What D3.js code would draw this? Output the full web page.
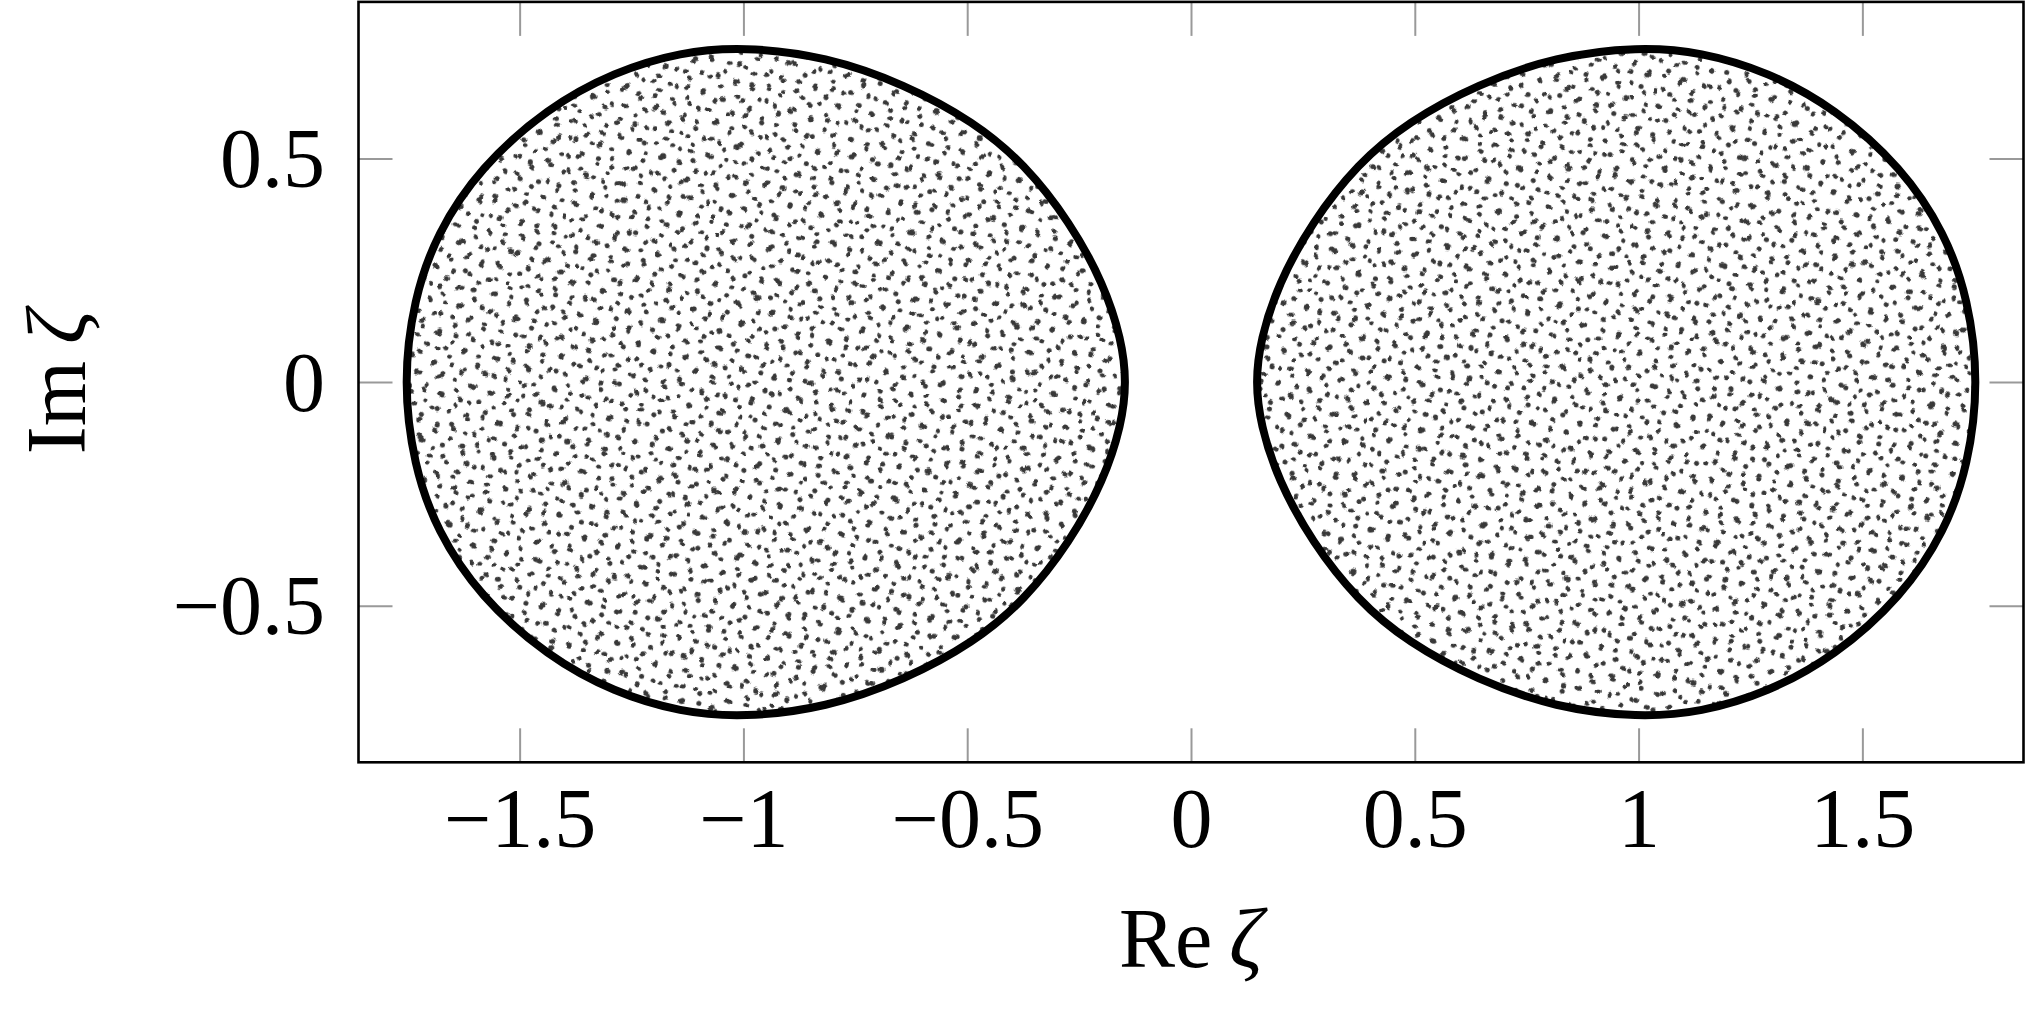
<!DOCTYPE html>
<html>
<head>
<meta charset="utf-8">
<script src="https://cdn.jsdelivr.net/npm/d3@7/dist/d3.min.js"></script>
<style>
  body { margin: 0; background: #fff; }
  text { font-family: "Liberation Serif", "DejaVu Serif", serif; fill: #000; }
</style>
</head>
<body>
<div class="container"></div>
<script>
// tick values
const reTicks = [-1.5, -1, -0.5, 0, 0.5, 1, 1.5];
const imTicks = [-0.5, 0, 0.5];

// boundary of the left support, [Re, Im]
const leftBoundary = [
  [-1.760, 0.000], [-1.737, 0.185], [-1.685, 0.333], [-1.588, 0.480], [-1.438, 0.613],
  [-1.288, 0.694], [-1.140, 0.738], [-1.000, 0.750], [-0.815, 0.728], [-0.640, 0.666],
  [-0.485, 0.582], [-0.372, 0.488], [-0.270, 0.357], [-0.195, 0.220], [-0.155, 0.095],
  [-0.144, 0.000], [-0.155, -0.095], [-0.195, -0.220], [-0.270, -0.357], [-0.372, -0.488],
  [-0.485, -0.582], [-0.640, -0.666], [-0.815, -0.728], [-1.000, -0.750], [-1.140, -0.738],
  [-1.288, -0.694], [-1.438, -0.613], [-1.588, -0.480], [-1.685, -0.333], [-1.737, -0.185]
];

// boundary of the right support
const rightBoundary = [
  [1.760, 0.000], [1.737, 0.185], [1.685, 0.333], [1.588, 0.480], [1.438, 0.613],
  [1.288, 0.694], [1.140, 0.738], [1.000, 0.750], [0.815, 0.728], [0.640, 0.666],
  [0.485, 0.582], [0.372, 0.488], [0.270, 0.357], [0.195, 0.220], [0.155, 0.095],
  [0.144, 0.000], [0.155, -0.095], [0.195, -0.220], [0.270, -0.357], [0.372, -0.488],
  [0.485, -0.582], [0.640, -0.666], [0.815, -0.728], [1.000, -0.750], [1.140, -0.738],
  [1.288, -0.694], [1.438, -0.613], [1.588, -0.480], [1.685, -0.333], [1.737, -0.185]
];

const w = 2026;
const h = 1010;
const pLeft = 358.5, pRight = 2023.5, pTop = 1.9, pBottom = 762.3;
const tick = 34;

const xScale = d3.scaleLinear().domain([-1.86, 1.86]).range([pLeft, pRight]);
const yScale = d3.scaleLinear().domain([-0.85, 0.85]).range([pBottom, pTop]);

const fmt = (d) => d < 0 ? "\u2212" + Math.abs(d) : String(d);

const svg = d3.select(".container")
  .append("svg")
  .attr("width", w)
  .attr("height", h);

const line = d3.line()
  .x((d) => xScale(d[0]))
  .y((d) => yScale(d[1]))
  .curve(d3.curveBasisClosed);

const defs = svg.append("defs");

const clip = defs.append("clipPath").attr("id", "blobs");
clip.append("path").attr("d", line(leftBoundary));
clip.append("path").attr("d", line(rightBoundary));

// stipple texture standing for the eigenvalue cloud:
// two sparse dot lattices, each shaken by its own noise displacement
const cell = 17.8;
const cellH = cell * Math.sqrt(3);
const layers = [
  { id: "a", angle: 13, seed: 5 },
  { id: "b", angle: 41, seed: 23 }
];

layers.forEach((l) => {
  const pattern = defs.append("pattern")
    .attr("id", "dots-" + l.id)
    .attr("patternUnits", "userSpaceOnUse")
    .attr("width", cell)
    .attr("height", cellH)
    .attr("patternTransform", "rotate(" + l.angle + ")");
  pattern.append("circle").attr("cx", cell / 4).attr("cy", cellH / 4).attr("r", 2.5).attr("fill", "#383838");
  pattern.append("circle").attr("cx", cell * 3 / 4).attr("cy", cellH * 3 / 4).attr("r", 2.5).attr("fill", "#383838");

  const filter = defs.append("filter")
    .attr("id", "jitter-" + l.id)
    .attr("filterUnits", "userSpaceOnUse")
    .attr("x", 0).attr("y", 0).attr("width", w).attr("height", h)
    .attr("color-interpolation-filters", "sRGB");
  filter.append("feTurbulence")
    .attr("type", "fractalNoise")
    .attr("baseFrequency", 0.035)
    .attr("numOctaves", 1)
    .attr("seed", l.seed)
    .attr("result", "noise");
  filter.append("feDisplacementMap")
    .attr("in", "SourceGraphic")
    .attr("in2", "noise")
    .attr("scale", 15)
    .attr("xChannelSelector", "R")
    .attr("yChannelSelector", "G");
});

const cloud = svg.append("g").attr("clip-path", "url(#blobs)");
layers.forEach((l) => {
  cloud.append("rect")
    .attr("x", pLeft - 20).attr("y", pTop - 20)
    .attr("width", pRight - pLeft + 40).attr("height", pBottom - pTop + 40)
    .attr("fill", "url(#dots-" + l.id + ")")
    .attr("filter", "url(#jitter-" + l.id + ")");
});

// axes
const axisStyle = (g) => {
  g.select(".domain").remove();
  g.selectAll(".tick line").attr("stroke", "#999").attr("stroke-width", 2);
};

svg.append("g")
  .attr("transform", "translate(0," + pBottom + ")")
  .call(d3.axisBottom(xScale).tickValues(reTicks).tickFormat(fmt).tickSizeInner(-tick).tickSizeOuter(0).tickPadding(0))
  .call(axisStyle)
  .call((g) => g.selectAll("text")
    .attr("y", 84.7).attr("dy", null)
    .attr("font-size", 84).attr("font-family", "Liberation Serif").attr("fill", "#000"));

svg.append("g")
  .attr("transform", "translate(0," + pTop + ")")
  .call(d3.axisTop(xScale).tickValues(reTicks).tickFormat("").tickSizeInner(-tick).tickSizeOuter(0))
  .call(axisStyle);

svg.append("g")
  .attr("transform", "translate(" + pLeft + ",0)")
  .call(d3.axisLeft(yScale).tickValues(imTicks).tickFormat(fmt).tickSizeInner(-tick).tickSizeOuter(0).tickPadding(33.5))
  .call(axisStyle)
  .call((g) => g.selectAll("text")
    .attr("x", -33.5).attr("dy", null).attr("y", 28)
    .attr("font-size", 84).attr("font-family", "Liberation Serif").attr("fill", "#000"));

svg.append("g")
  .attr("transform", "translate(" + pRight + ",0)")
  .call(d3.axisRight(yScale).tickValues(imTicks).tickFormat("").tickSizeInner(-tick).tickSizeOuter(0))
  .call(axisStyle);

// boundary curves
svg.selectAll(".boundary")
  .data([leftBoundary, rightBoundary])
  .enter()
  .append("path")
  .attr("class", "boundary")
  .attr("d", line)
  .attr("fill", "none")
  .attr("stroke", "#000")
  .attr("stroke-width", 8);

// frame
svg.append("rect")
  .attr("x", pLeft).attr("y", pTop)
  .attr("width", pRight - pLeft).attr("height", pBottom - pTop)
  .attr("fill", "none")
  .attr("stroke", "#000")
  .attr("stroke-width", 2.6);

// axis labels
const xLabel = svg.append("text")
  .attr("x", (pLeft + pRight) / 2)
  .attr("y", 967)
  .attr("text-anchor", "middle")
  .attr("font-size", 84)
  .attr("fill", "#222");
xLabel.append("tspan").text("Re\u2009");
xLabel.append("tspan").attr("font-style", "italic").text("\u03b6");

const yLabel = svg.append("text")
  .attr("transform", "translate(85," + yScale(0) + ") rotate(-90)")
  .attr("text-anchor", "middle")
  .attr("font-size", 84)
  .attr("fill", "#222");
yLabel.append("tspan").text("Im\u2009");
yLabel.append("tspan").attr("font-style", "italic").text("\u03b6");
</script>
</body>
</html>
